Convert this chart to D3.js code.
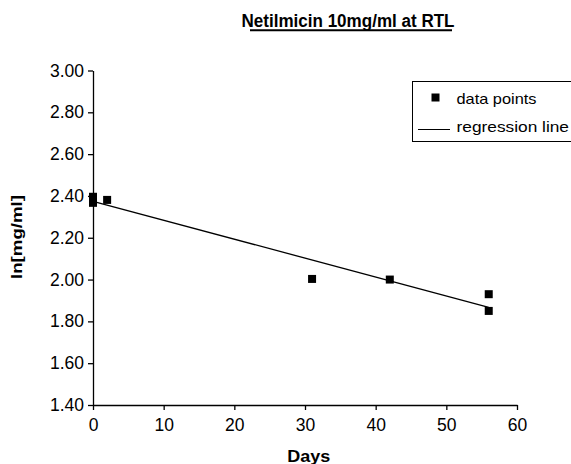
<!DOCTYPE html>
<html>
<head>
<meta charset="utf-8">
<script src="https://cdn.jsdelivr.net/npm/d3@7"></script>
<style>
  body { margin: 0; background: #fff; }
  svg { font-family: "Liberation Sans", Arial, sans-serif; }
</style>
</head>
<body>
<svg id="chart" width="571" height="464"></svg>
<script>
// measured points (days, ln conc)
let days = [0, 0, 2, 31, 42, 56, 56];
let lnConc = [2.396, 2.367, 2.381, 2.003, 2.0, 1.93, 1.85];
let xTicks = [0, 10, 20, 30, 40, 50, 60];
let yTicks = [1.4, 1.6, 1.8, 2.0, 2.2, 2.4, 2.6, 2.8, 3.0];
let legendLabels = ['data points', 'regression line'];

let pts = days.map(function(d, i) { return {x: d, y: lnConc[i]}; });

// least squares fit
let mx = d3.mean(days), my = d3.mean(lnConc);
let sxy = d3.sum(pts, function(p) { return (p.x - mx) * (p.y - my); });
let sxx = d3.sum(pts, function(p) { return (p.x - mx) * (p.x - mx); });
let slope = sxy / sxx;
let intercept = my - slope * mx;
let fit = [0, 56].map(function(x) { return {x: x, y: intercept + slope * x}; });

let svg = d3.select('#chart');

let xScale = d3.scaleLinear().domain([0, 60]).range([93, 517]);
let yScale = d3.scaleLinear().domain([1.4, 3.0]).range([405, 70.5]);

let xAxis = svg.append('g')
  .attr('transform', 'translate(0,405)')
  .call(d3.axisBottom(xScale).tickValues(xTicks).tickSize(5).tickSizeOuter(0).tickFormat(d3.format('d')));
let yAxis = svg.append('g')
  .attr('transform', 'translate(93,0)')
  .call(d3.axisLeft(yScale).tickValues(yTicks).tickSize(5).tickSizeOuter(0).tickFormat(d3.format('.2f')));

[xAxis, yAxis].forEach(function(ax) {
  ax.selectAll('.domain').attr('stroke', '#000').attr('stroke-width', 1.3);
  ax.selectAll('.tick line').attr('stroke', '#000').attr('stroke-width', 1.3);
  ax.selectAll('.tick text').attr('fill', '#000').style('font-size', '17.5px')
    .style('font-family', '"Liberation Sans", Arial, sans-serif');
});
xAxis.selectAll('.tick text').attr('y', 13.5);
yAxis.selectAll('.tick text').attr('x', -9);

// regression line
svg.append('path')
  .datum(fit)
  .attr('fill', 'none')
  .attr('stroke', '#000')
  .attr('stroke-width', 1.3)
  .attr('d', d3.line().x(function(d) { return xScale(d.x); }).y(function(d) { return yScale(d.y); }));

// data points
svg.selectAll('rect.pt')
  .data(pts)
  .enter().append('rect')
  .attr('class', 'pt')
  .attr('x', function(d) { return xScale(d.x) - 4; })
  .attr('y', function(d) { return yScale(d.y) - 4; })
  .attr('width', 8)
  .attr('height', 8)
  .attr('fill', '#000');

// title
svg.append('text')
  .attr('x', 348)
  .attr('y', 26.5)
  .attr('text-anchor', 'middle')
  .attr('textLength', 213)
  .attr('lengthAdjust', 'spacingAndGlyphs')
  .style('font-size', '18px')
  .style('font-weight', 'bold')
  .text('Netilmicin 10mg/ml at RTL');
svg.append('line')
  .attr('x1', 250).attr('x2', 452)
  .attr('y1', 30.3).attr('y2', 30.3)
  .attr('stroke', '#000').attr('stroke-width', 2);

// axis titles
svg.append('text')
  .attr('x', 308.7)
  .attr('y', 462)
  .attr('text-anchor', 'middle')
  .attr('textLength', 43)
  .attr('lengthAdjust', 'spacingAndGlyphs')
  .style('font-size', '16px')
  .style('font-weight', 'bold')
  .text('Days');
svg.append('text')
  .attr('transform', 'translate(21.5,237) rotate(-90)')
  .attr('text-anchor', 'middle')
  .attr('textLength', 84)
  .attr('lengthAdjust', 'spacingAndGlyphs')
  .style('font-size', '14px')
  .style('font-weight', 'bold')
  .text('ln[mg/ml]');

// legend
let lg = svg.append('g').attr('transform', 'translate(412.5,81.5)');
lg.append('rect')
  .attr('x', 0).attr('y', 0).attr('width', 170).attr('height', 60)
  .attr('fill', '#fff').attr('stroke', '#000').attr('stroke-width', 1);
lg.append('rect')
  .attr('x', 19).attr('y', 12).attr('width', 8).attr('height', 8).attr('fill', '#000');
lg.append('line')
  .attr('x1', 5.5).attr('x2', 37.5).attr('y1', 48).attr('y2', 48)
  .attr('stroke', '#000').attr('stroke-width', 1);
lg.selectAll('text.lab')
  .data(legendLabels)
  .enter().append('text')
  .attr('class', 'lab')
  .attr('x', 44)
  .attr('y', function(d, i) { return 22 + i * 28.5; })
  .attr('textLength', function(d, i) { return i === 0 ? 80 : 112.5; })
  .attr('lengthAdjust', 'spacingAndGlyphs')
  .style('font-size', '15px')
  .text(function(d) { return d; });
</script>
</body>
</html>
